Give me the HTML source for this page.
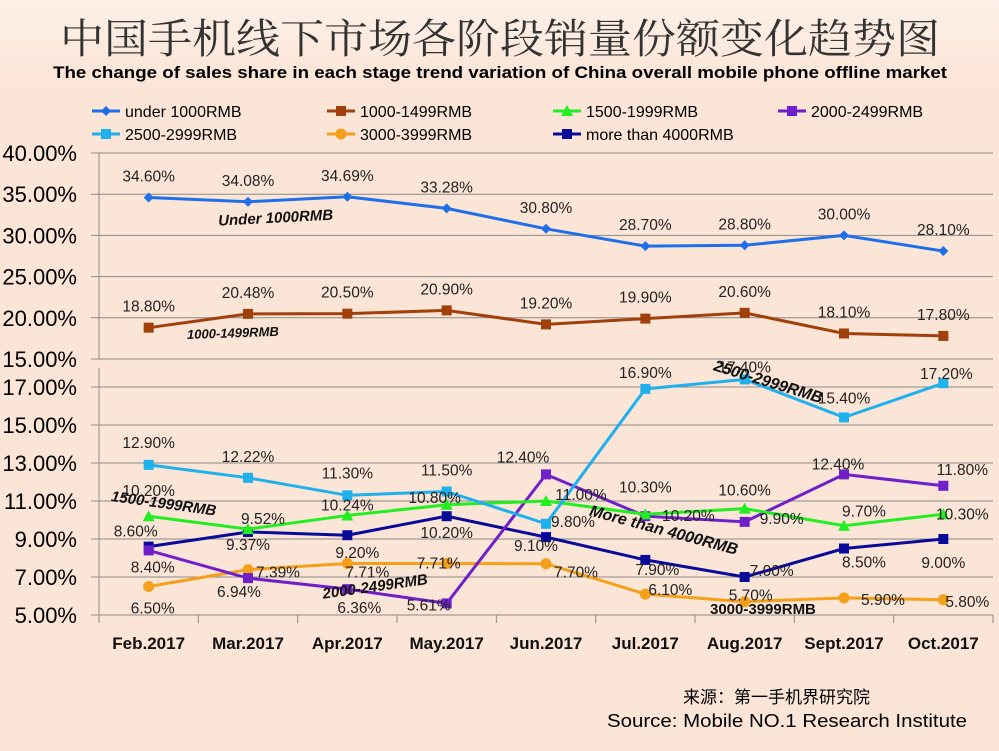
<!DOCTYPE html>
<html><head><meta charset="utf-8">
<style>
html,body{margin:0;background:#fbe5d6;overflow:hidden;width:999px;height:751px;}
svg{display:block;font-family:"Liberation Sans","Noto Sans CJK SC",sans-serif;}
</style></head>
<body>
<svg id="chart" width="999" height="751" viewBox="0 0 999 751" xmlns="http://www.w3.org/2000/svg">
<defs>
<linearGradient id="tg" x1="0" y1="0" x2="0" y2="1"><stop offset="0" stop-color="#fdf0e8"/><stop offset="1" stop-color="#fbe5d6"/></linearGradient>
</defs>
<rect width="999" height="751" fill="#fbe5d6"/>
<rect width="999" height="85" fill="url(#tg)"/>
<text x="500" y="53" text-anchor="middle" font-size="41" fill="#333" font-family="'Noto Serif CJK SC','Noto Sans CJK SC',serif" textLength="880" lengthAdjust="spacingAndGlyphs">中国手机线下市场各阶段销量份额变化趋势图</text>
<text x="500" y="78" text-anchor="middle" font-size="17" font-weight="bold" fill="#000" textLength="894" lengthAdjust="spacingAndGlyphs">The change of sales share in each stage trend variation of China overall mobile phone offline market</text>
<g id="legend"></g>
<g id="grid"></g>
<g id="marks"></g>
<g id="labels"></g>
<g id="ann" font-weight="bold" font-style="italic" font-size="15" fill="#111">
<text x="218" y="222" transform="rotate(-3 288 215)">Under 1000RMB</text>
<text x="187" y="337" font-size="13" transform="rotate(-2 245 333)">1000-1499RMB</text>
<text x="708" y="388" font-size="16" transform="rotate(17 770 395)">2500-2999RMB</text>
<text x="110" y="510" transform="rotate(8 175 510)">1500-1999RMB</text>
<text x="322" y="590" transform="rotate(-8 385 585)">2000-2499RMB</text>
<text x="584" y="540" font-size="16" transform="rotate(15 680 545)">More than 4000RMB</text>
<text x="710" y="614" font-style="normal">3000-3999RMB</text>
</g>
<g id="xlabels"></g>
<text x="683" y="703" font-size="17" fill="#000">来源：第一手机界研究院</text>
<text x="607" y="727" font-size="18" fill="#000" textLength="360" lengthAdjust="spacingAndGlyphs">Source: Mobile NO.1 Research Institute</text>
</svg>
<script>
const categories=["Feb.2017","Mar.2017","Apr.2017","May.2017","Jun.2017","Jul.2017","Aug.2017","Sept.2017","Oct.2017"];
const seriesNames=["under 1000RMB","1000-1499RMB","1500-1999RMB","2000-2499RMB","2500-2999RMB","3000-3999RMB","more than 4000RMB"];
const sUnder1000=[34.60,34.08,34.69,33.28,30.80,28.70,28.80,30.00,28.10];
const s1000=[18.80,20.48,20.50,20.90,19.20,19.90,20.60,18.10,17.80];
const s1500=[10.20,9.52,10.24,10.80,11.00,10.30,10.60,9.70,10.30];
const s2000=[8.40,6.94,6.36,5.61,12.40,10.20,9.90,12.40,11.80];
const s2500=[12.90,12.22,11.30,11.50,9.80,16.90,17.40,15.40,17.20];
const s3000=[6.50,7.39,7.71,7.71,7.70,6.10,5.70,5.90,5.80];
const s4000=[8.60,9.37,9.20,10.20,9.10,7.90,7.00,8.50,9.00];
const upperTicks=[40,35,30,25,20,15];
const lowerTicks=[17,15,13,11,9,7,5];

const NS="http://www.w3.org/2000/svg";
function mk(tag,attrs,parent){const e=document.createElementNS(NS,tag);for(const k in attrs)e.setAttribute(k,attrs[k]);parent.appendChild(e);return e;}
const L=99,R=993;
const bw=(R-L)/categories.length;
const xs=i=>L+bw*(i+0.5);
const yU=v=>153+(40-v)*8.24;
const yL=v=>615-(v-5)*19;

const colors=["#1f6fe8","#a0400a","#22ee22","#7020c8","#1fb0ee","#f5a01a","#0a0a9a"];
const shapes=["diamond","square","triangle","square","square","circle","square"];
const seriesData=[sUnder1000,s1000,s1500,s2000,s2500,s3000,s4000];
const panel=[yU,yU,yL,yL,yL,yL,yL];
// label offsets (dx,dy relative to point) - layout only
const offs=[
 [[0,-21],[0,-21],[0,-21],[0,-21],[0,-21],[0,-21],[0,-21],[0,-21],[0,-21]],
 [[0,-21],[0,-21],[0,-21],[0,-21],[0,-21],[0,-21],[0,-21],[0,-21],[0,-21]],
 [[0,-25],[15,-10],[0,-10],[-12,-7],[35,-6],[0,-27],[0,-18],[20,-14],[19,0]],
 [[4,17],[-9,14],[12,19],[-18,2],[-23,-17],[43,0],[37,-3],[-6,-10],[19,-16]],
 [[0,-22],[0,-21],[0,-22],[0,-21],[27,-2],[0,-16],[0,-12],[0,-19],[3,-9]],
 [[4,22],[30,3],[20,9],[-8,0],[30,9],[25,-4],[6,-6],[39,2],[24,2]],
 [[-13,-15],[0,13],[10,18],[0,17],[-10,9],[12,10],[27,-6],[20,14],[0,24]]
];
const grid=document.getElementById('grid');
upperTicks.forEach(t=>{
 const g=mk('line',{x1:L-8,x2:R,y1:yU(t),y2:yU(t),stroke:'#8a8a8a','stroke-width':1},grid);
 
 const tx=mk('text',{x:77,y:yU(t)+8,'text-anchor':'end','font-size':22,fill:'#000'},grid);tx.textContent=t.toFixed(2)+'%';
 
});
lowerTicks.forEach(t=>{
 const g=mk('line',{x1:L-8,x2:R,y1:yL(t),y2:yL(t),stroke:'#8a8a8a','stroke-width':1},grid);
 
 const tx=mk('text',{x:77,y:yL(t)+8,'text-anchor':'end','font-size':22,fill:'#000'},grid);tx.textContent=t.toFixed(2)+'%';
 
});
mk('line',{x1:L,x2:L,y1:153,y2:359,stroke:'#8a8a8a'},grid);
mk('line',{x1:L,x2:L,y1:368,y2:623,stroke:'#8a8a8a'},grid);
for(let i=0;i<=categories.length;i++)mk('line',{x1:L+bw*i,x2:L+bw*i,y1:615,y2:623,stroke:'#8a8a8a'},grid);
const xl=document.getElementById('xlabels');
categories.forEach((c,i)=>{const t=mk('text',{x:xs(i),y:649,'text-anchor':'middle','font-size':17,'font-weight':'bold',fill:'#111'},xl);t.textContent=c;
 });

function marker(g,shape,x,y,c,s){
 if(shape==='diamond')return mk('polygon',{points:`${x},${y-5} ${x+5},${y} ${x},${y+5} ${x-5},${y}`,fill:c},g);
 if(shape==='square')return mk('rect',{x:x-5,y:y-5,width:10,height:10,fill:c},g);
 if(shape==='triangle')return mk('polygon',{points:`${x},${y-6} ${x+6},${y+5} ${x-6},${y+5}`,fill:c},g);
 return mk('circle',{cx:x,cy:y,r:5.5,fill:c},g);
}
const marks=document.getElementById('marks'),labs=document.getElementById('labels');
const order=[0,1,5,6,3,2,4];
order.forEach(si=>{
 const d=seriesData[si],fy=panel[si];
 const g=mk('g',{},marks);
 
 
 const ln=mk('polyline',{points:d.map((v,i)=>xs(i)+','+fy(v)).join(' '),fill:'none',stroke:colors[si],'stroke-width':3},g);
 
 d.forEach((v,i)=>{
  const m=marker(g,shapes[si],xs(i),fy(v),colors[si]);
  
  const o=offs[si][i];
  const t=mk('text',{x:xs(i)+o[0],y:fy(v)+o[1]+5,'text-anchor':'middle','font-size':15.5,fill:'#222'},labs);
  t.textContent=v.toFixed(2)+'%';
  
 });
});
const lg=document.getElementById('legend');
const lpos=[[92,111],[327,111],[553,111],[778,111],[92,134],[327,134],[553,134]];
seriesNames.forEach((n,si)=>{
 const [x,y]=lpos[si];
 const g=mk('g',{},lg);
 
 mk('line',{x1:x,x2:x+28,y1:y,y2:y,stroke:colors[si],'stroke-width':3},g);
 marker(g,shapes[si],x+14,y,colors[si]);
 const t=mk('text',{x:x+33,y:y+6,'font-size':16,fill:'#000'},g);t.textContent=n;
});
</script>
</body></html>
